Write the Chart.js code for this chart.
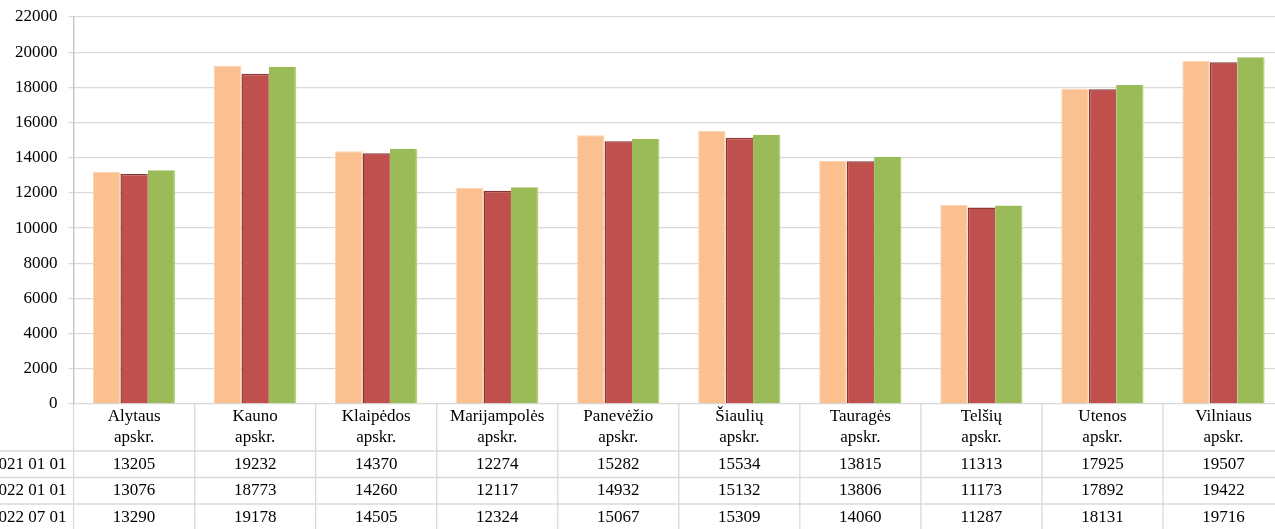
<!DOCTYPE html>
<html>
<head>
<meta charset="utf-8">
<script src="https://cdn.jsdelivr.net/npm/chart.js@4"></script>
<style>
  html,body{margin:0;padding:0;overflow:hidden;background:#fff;}
  #wrap{position:absolute;left:0;top:0;width:1284px;height:529px;}
</style>
</head>
<body>
<div id="wrap"><canvas id="grafico"></canvas></div>
<script>
// Dados
const apskritys = [
  ['Alytaus','apskr.'], ['Kauno','apskr.'], ['Klaipėdos','apskr.'], ['Marijampolės','apskr.'],
  ['Panevėžio','apskr.'], ['Šiaulių','apskr.'], ['Tauragės','apskr.'], ['Telšių','apskr.'],
  ['Utenos','apskr.'], ['Vilniaus','apskr.']
];
const datos = ['2021 01 01', '2022 01 01', '2022 07 01'];
const v2021_01 = [13205,19232,14370,12274,15282,15534,13815,11313,17925,19507];
const v2022_01 = [13076,18773,14260,12117,14932,15132,13806,11173,17892,19422];
const v2022_07 = [13290,19178,14505,12324,15067,15309,14060,11287,18131,19716];
const spalvos = ['#FAC090','#C0504D','#9BBB59'];
const krastai = ['#FCD3AE','#8E3432','#B5D07E'];

const serif = '"Liberation Serif", "Times New Roman", serif';

// Lentelė po grafiku
const lentele = {
  id:'lentele',
  afterDraw(chart){
    const {ctx, chartArea:a, scales:{x}} = chart;
    const headH = 47, rowH = 26.5;
    const step = x.getPixelForValue(1) - x.getPixelForValue(0);
    ctx.save();
    ctx.strokeStyle = '#d9d9d9';
    ctx.lineWidth = 1.3;
    // vertikalios linijos
    for(let i=0;i<=apskritys.length;i++){
      const px = x.getPixelForValue(i) - step/2;
      ctx.beginPath(); ctx.moveTo(px, a.bottom); ctx.lineTo(px, chart.height); ctx.stroke();
    }
    // horizontalios linijos
    for(let r=0;r<datos.length;r++){
      const py = a.bottom + headH + r*rowH;
      ctx.beginPath(); ctx.moveTo(0, py); ctx.lineTo(chart.width, py); ctx.stroke();
    }
    // tekstas
    ctx.fillStyle = '#000';
    ctx.font = '17px ' + serif;
    ctx.textBaseline = 'middle';
    ctx.textAlign = 'center';
    apskritys.forEach((lab,i)=>{
      const cx = x.getPixelForValue(i);
      ctx.fillText(lab[0], cx, a.bottom + 13);
      ctx.fillText(lab[1], cx, a.bottom + 34);
    });
    const eil = [v2021_01, v2022_01, v2022_07];
    eil.forEach((vals, r)=>{
      const cy = a.bottom + headH + r*rowH + rowH/2;
      ctx.textAlign = 'right';
      ctx.fillText(datos[r], a.left - 7, cy);
      ctx.textAlign = 'center';
      vals.forEach((v,i)=> ctx.fillText(String(v), x.getPixelForValue(i), cy));
    });
    ctx.restore();
  }
};

new Chart(document.getElementById('grafico'), {
  type:'bar',
  data:{
    labels: apskritys.map(l=>l.join(' ')),
    datasets:[
      {label:datos[0], data:v2021_01, backgroundColor:spalvos[0], borderColor:krastai[0], borderWidth:{top:1,left:1,right:1,bottom:0}},
      {label:datos[1], data:v2022_01, backgroundColor:spalvos[1], borderColor:krastai[1], borderWidth:{top:1.5,left:1.5,right:0,bottom:0}},
      {label:datos[2], data:v2022_07, backgroundColor:spalvos[2], borderColor:krastai[2], borderWidth:{top:0,left:0,right:1.5,bottom:0}}
    ]
  },
  options:{
    responsive:true,
    maintainAspectRatio:false,
    animation:false,
    layout:{padding:{top:17, right:0, left:0, bottom:0}},
    plugins:{legend:{display:false}, tooltip:{enabled:false}},
    datasets:{bar:{categoryPercentage:0.68, barPercentage:1}},
    scales:{
      x:{
        grid:{display:false},
        border:{display:false},
        ticks:{display:false},
        afterFit(s){ s.height = 125; }
      },
      y:{
        min:0, max:22000,
        ticks:{stepSize:2000, color:'#000', font:{family:serif, size:17}, padding:11, callback:v=>String(v)},
        grid:{color:'#d9d9d9', lineWidth:1.3, tickLength:5},
        border:{color:'#bfbfbf', width:1.3},
        afterFit(s){ s.width = 73.6; s.paddingTop = 0; s.paddingBottom = 0; }
      }
    }
  },
  plugins:[lentele]
});
</script>
</body>
</html>
